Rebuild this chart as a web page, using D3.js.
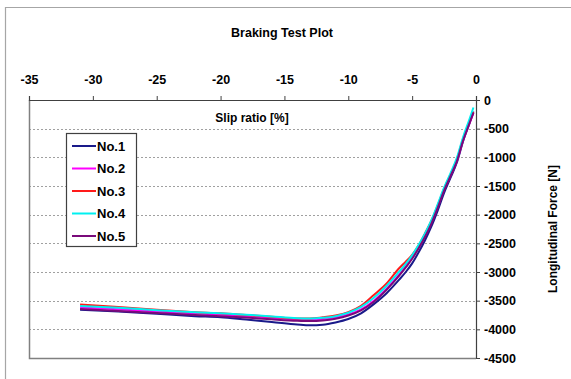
<!DOCTYPE html>
<html><head><meta charset="utf-8">
<script src="https://cdn.jsdelivr.net/npm/d3@7"></script>
<style>body{margin:0;background:#fff}svg{display:block;font-family:"Liberation Sans",Arial,sans-serif}</style>
</head><body><svg id="c" width="571" height="379"></svg>
<script>
const title = "Braking Test Plot";
const xLabel = "Slip ratio [%]";
const yLabel = "Longitudinal Force [N]";
const seriesNames = ["No.1","No.2","No.3","No.4","No.5"];
const seriesColors = ["#1a1a8a","#ff00ff","#ff1a1a","#00f0f0","#7a0a7a"];
const xTicks = [-35,-30,-25,-20,-15,-10,-5,0];
const yTicks = [0,-500,-1000,-1500,-2000,-2500,-3000,-3500,-4000,-4500];
const slip = [-31,-28,-25,-22,-20,-18,-16,-14,-13,-12,-11,-10,-9,-8,-7,-6,-5.5,-5,-4.5,-4,-3.5,-3,-2.5,-2,-1.5,-1,-0.5,-0.2];
const no1 = [-3660,-3690,-3730,-3770,-3790,-3830,-3870,-3915,-3930,-3920,-3880,-3820,-3720,-3560,-3370,-3130,-3000,-2850,-2660,-2450,-2210,-1930,-1620,-1360,-1090,-710,-400,-200];
const no2 = [-3620,-3650,-3690,-3720,-3745,-3770,-3800,-3825,-3830,-3820,-3790,-3740,-3650,-3500,-3290,-3040,-2900,-2750,-2570,-2370,-2140,-1860,-1560,-1320,-1060,-690,-400,-230];
const no3 = [-3565,-3610,-3660,-3700,-3720,-3750,-3780,-3810,-3810,-3790,-3760,-3700,-3590,-3400,-3200,-2930,-2820,-2700,-2540,-2330,-2110,-1840,-1550,-1300,-1040,-670,-380,-210];
const no4 = [-3595,-3625,-3665,-3700,-3720,-3745,-3775,-3805,-3810,-3800,-3770,-3710,-3610,-3450,-3240,-2990,-2860,-2710,-2530,-2330,-2100,-1820,-1530,-1280,-1010,-640,-330,-130];
const no5 = [-3645,-3680,-3715,-3750,-3770,-3795,-3825,-3850,-3855,-3845,-3815,-3760,-3670,-3520,-3310,-3060,-2920,-2770,-2590,-2390,-2160,-1880,-1580,-1330,-1070,-700,-400,-220];
const allSeries = [no1,no2,no3,no4,no5];

const svg = d3.select("#c");
const L=29, R=476, T=100, B=358;
const x = d3.scaleLinear().domain([-35,0]).range([L,R]);
const y = d3.scaleLinear().domain([0,-4500]).range([T,B]);
const fmt = d => String(d);

// outer chart border
svg.append("path").attr("d","M5.5,379 V7.5 H571").attr("fill","none").attr("stroke","#a6a6a6").attr("stroke-width",1.2);

// gridlines
svg.append("g").selectAll("line").data(yTicks.filter(d=>d!==0&&d!==-4500)).join("line")
  .attr("x1",L).attr("x2",R).attr("y1",d=>Math.round(y(d))+0.5).attr("y2",d=>Math.round(y(d))+0.5)
  .attr("stroke","#a0a0a0").attr("stroke-dasharray","2,2");

// plot frame (left & bottom)
svg.append("path").attr("d",`M${L+0.5},${T} V${B+0.5} H${R}`).attr("fill","none").attr("stroke","#808080").attr("stroke-width",1.5);

// lines
const line = d3.line().x((d,i)=>x(slip[i])).y(d=>y(d)).curve(d3.curveMonotoneX);
svg.append("g").selectAll("path").data(allSeries).join("path")
  .attr("d",d=>line(d)).attr("fill","none")
  .attr("stroke",(d,i)=>seriesColors[i]).attr("stroke-width",2);

// axes
const xa = svg.append("g").attr("transform",`translate(0,${T})`)
  .call(d3.axisTop(x).tickValues(xTicks).tickSize(4).tickFormat(fmt));
xa.select(".domain").attr("stroke","#404040").attr("stroke-width",1.2);
xa.selectAll(".tick line").attr("stroke","#404040");
xa.selectAll("text").attr("font-size",12.5).attr("font-weight","bold").attr("fill","#000").attr("y",-20).attr("dy","0.32em");

const ya = svg.append("g").attr("transform",`translate(${R},0)`)
  .call(d3.axisRight(y).tickValues(yTicks).tickSize(4).tickFormat(fmt));
ya.select(".domain").attr("stroke","#404040").attr("stroke-width",1.2);
ya.selectAll(".tick line").attr("stroke","#404040");
ya.selectAll("text").attr("font-size",12.5).attr("font-weight","bold").attr("fill","#000").attr("x",8);

// title and axis labels
svg.append("text").attr("x",282).attr("y",37).attr("text-anchor","middle").attr("font-size",12.5).attr("font-weight","bold").text(title);
svg.append("text").attr("x",252).attr("y",122).attr("text-anchor","middle").attr("font-size",12).attr("font-weight","bold").text(xLabel);
svg.append("text").attr("transform","translate(557,229) rotate(-90)").attr("text-anchor","middle").attr("font-size",12).attr("font-weight","bold").text(yLabel);

// legend
const lg = svg.append("g");
lg.append("rect").attr("x",66.5).attr("y",133.5).attr("width",70).attr("height",113).attr("fill","#fff").attr("stroke","#404040").attr("stroke-width",1.2);
const items = lg.selectAll("g").data(seriesNames).join("g").attr("transform",(d,i)=>`translate(0,${146+i*22.5})`);
items.append("line").attr("x1",72).attr("x2",96).attr("stroke",(d,i)=>seriesColors[i]).attr("stroke-width",2);
items.append("text").attr("x",97).attr("dy","0.35em").attr("font-size",13).attr("font-weight","bold").text(d=>d);
</script></body></html>
